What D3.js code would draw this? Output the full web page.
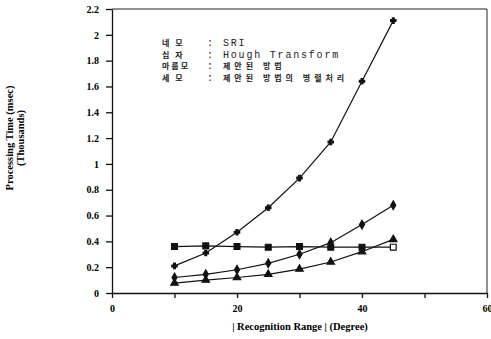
<!DOCTYPE html>
<html>
<head>
<meta charset="utf-8">
<script src="https://cdn.jsdelivr.net/npm/d3@7"></script>
<style>
  body { margin: 0; background: #fff; }
  .tick text { font-family: "Liberation Serif", serif; font-weight: bold; font-size: 10px; }
  .legend { font-family: "Liberation Mono", monospace; font-size: 10px; fill: #222; }
  .legend .ko { font-family: "Noto Sans CJK KR", sans-serif; font-size: 8px; font-weight: bold; }
  .title { font-family: "Liberation Serif", serif; font-weight: bold; font-size: 10.5px; }
</style>
</head>
<body>
<div id="chart"></div>
<script>
// recognition range (degrees)
const ranges = [10, 15, 20, 25, 30, 35, 40, 45];

// processing time (thousands of msec)
const sri       = [0.36, 0.365, 0.36, 0.355, 0.36, 0.355, 0.355, 0.355];
const hough     = [0.21, 0.31, 0.47, 0.66, 0.89, 1.17, 1.64, 2.11];
const proposed  = [0.12, 0.145, 0.18, 0.23, 0.30, 0.39, 0.53, 0.68];
const parallel  = [0.077, 0.10, 0.12, 0.145, 0.185, 0.24, 0.32, 0.415];

const xTicks = [0, 10, 20, 30, 40, 50, 60];
const xLabels = [0, 20, 40, 60];
const yTicks = [0, 0.2, 0.4, 0.6, 0.8, 1, 1.2, 1.4, 1.6, 1.8, 2, 2.2];

const legendShapes = ["네 모", "십 자", "마름모", "세 모"];
const legendNames = ["SRI", "Hough Transform", "제안된 방법", "제안된 방법의 병렬처리"];

const width = 491, height = 339;
const margin = { left: 112, right: 4, top: 9, bottom: 46 };

const x = d3.scaleLinear().domain([0, 60]).range([margin.left, width - margin.right]);
const y = d3.scaleLinear().domain([0, 2.2]).range([height - margin.bottom, margin.top]);

const svg = d3.select("#chart").append("svg")
  .attr("width", width)
  .attr("height", height);

// frame (top and right)
svg.append("path")
  .attr("d", `M${x(0)},${y(2.2)}H${x(60)}V${y(0)}`)
  .attr("fill", "none")
  .attr("stroke", "#222")
  .attr("stroke-width", 1);

const xAxis = svg.append("g")
  .attr("transform", `translate(0,${y(0)})`)
  .call(d3.axisBottom(x).tickValues(xTicks).tickSize(5).tickSizeOuter(0)
    .tickFormat(d => xLabels.includes(d) ? d : ""));
xAxis.selectAll("text").attr("dy", "1.1em");

const yAxis = svg.append("g")
  .attr("transform", `translate(${x(0)},0)`)
  .call(d3.axisLeft(y).tickValues(yTicks).tickSize(6).tickSizeOuter(0)
    .tickFormat(d => d3.format("~g")(d)));
yAxis.selectAll("text").attr("x", -13);

svg.selectAll(".domain").attr("stroke", "#111").attr("stroke-width", 1.3);
svg.selectAll(".tick line").attr("stroke", "#111").attr("stroke-width", 1.3);

const series = [
  { values: sri, symbol: d3.symbolSquare, size: 34 },
  { values: hough, symbol: d3.symbolCross, size: 16 },
  { values: proposed, symbol: d3.symbolDiamond, size: 22 },
  { values: parallel, symbol: d3.symbolTriangle, size: 24 }
];

const line = d3.line()
  .x(d => x(d[0]))
  .y(d => y(d[1]));

series.forEach(s => {
  const pts = ranges.map((r, i) => [r, s.values[i]]);
  svg.append("path")
    .datum(pts)
    .attr("d", line)
    .attr("fill", "none")
    .attr("stroke", "#111")
    .attr("stroke-width", 1.2);
  svg.selectAll(null)
    .data(pts)
    .enter()
    .append("path")
    .attr("transform", d => `translate(${x(d[0])},${y(d[1])})`)
    .attr("d", d3.symbol().type(s.symbol).size(s.size))
    .attr("fill", (d, i) => (s.values === sri && i === pts.length - 1) ? "#fff" : "#111")
    .attr("stroke", "#111")
    .attr("stroke-width", 1.2);
});

// legend
const isKo = t => /[\uAC00-\uD7A3]/.test(t);
const legend = svg.append("g").attr("class", "legend");
legendShapes.forEach((name, i) => {
  const ly = 46 + i * 11.7;
  legend.append("text").attr("class", "ko")
    .attr("x", 162).attr("y", ly)
    .style("letter-spacing", (name.length === 3 ? 2 : 5) + "px")
    .text(name);
  legend.append("text").attr("x", 207).attr("y", ly).text(":");
  legend.append("text").attr("class", isKo(legendNames[i]) ? "ko" : null)
    .attr("x", 223).attr("y", ly)
    .style("letter-spacing", (isKo(legendNames[i]) ? 4 : 1.8) + "px")
    .text(legendNames[i]);
});

// axis titles
svg.append("text")
  .attr("class", "title")
  .attr("x", 300)
  .attr("y", 330)
  .attr("text-anchor", "middle")
  .text("| Recognition Range | (Degree)");

svg.append("text")
  .attr("class", "title")
  .attr("transform", "translate(13,138) rotate(-90)")
  .attr("text-anchor", "middle")
  .text("Processing Time (msec)");

svg.append("text")
  .attr("class", "title")
  .attr("transform", "translate(24,138) rotate(-90)")
  .attr("text-anchor", "middle")
  .text("(Thousands)");
</script>
</body>
</html>
